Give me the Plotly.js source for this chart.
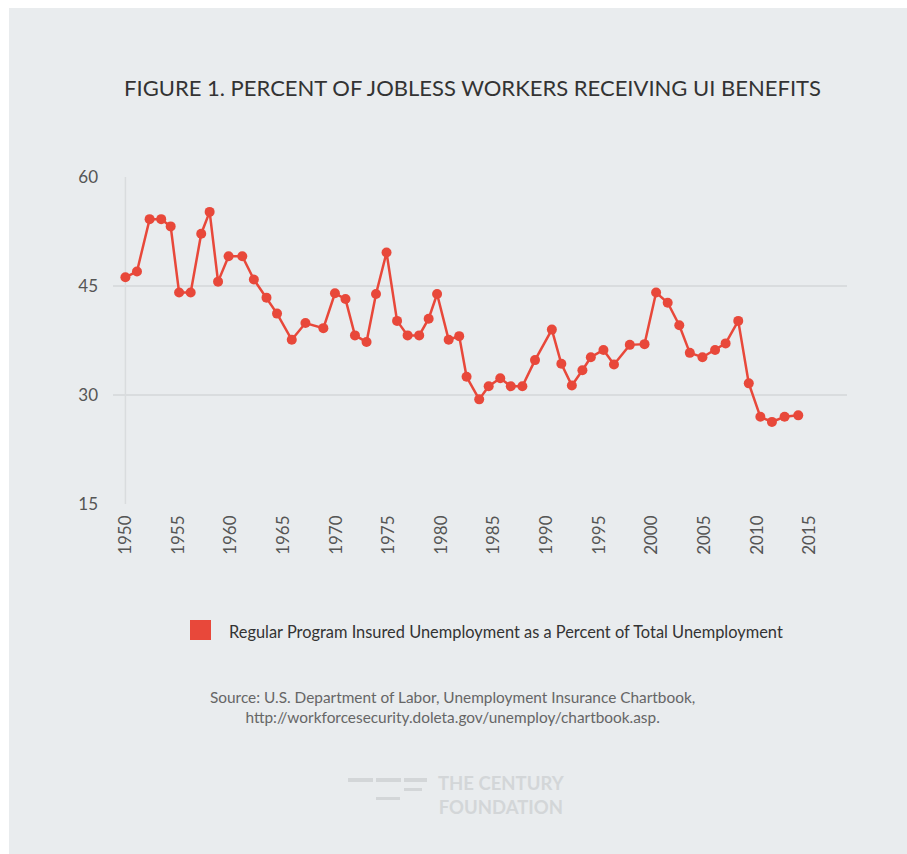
<!DOCTYPE html>
<html>
<head>
<meta charset="utf-8">
<script src="https://cdn.plot.ly/plotly-3.0.1.min.js"></script>
<style>
  html, body { margin: 0; padding: 0; background: #ffffff; }
  #card { position: absolute; left: 9px; top: 8px; width: 898px; height: 846px; background: #e9ecee; }
  #chart { position: absolute; left: 0; top: 0; width: 907px; height: 854px; }
</style>
</head>
<body>
<div id="card"></div>
<div id="chart"></div>
<script>
// Year positions of the plotted points
const years = [1950,1951.1,1952.3,1953.4,1954.3,1955.1,1956.2,1957.2,1958.0,1958.8,
  1959.8,1961.1,1962.2,1963.4,1964.4,1965.8,1967.1,1968.8,1969.9,1970.9,
  1971.8,1972.9,1973.8,1974.8,1975.8,1976.8,1977.9,1978.8,1979.6,1980.7,
  1981.7,1982.4,1983.6,1984.5,1985.6,1986.6,1987.7,1988.9,1990.5,1991.4,
  1992.4,1993.4,1994.2,1995.4,1996.4,1997.9,1999.3,2000.4,2001.5,2002.6,
  2003.6,2004.8,2006.0,2007.0,2008.2,2009.2,2010.3,2011.4,2012.6,2013.9];
// Regular program insured unemployment as % of total unemployment
const recipiency = [46.2,47.0,54.2,54.2,53.2,44.1,44.1,52.2,55.2,45.6,
  49.1,49.1,45.9,43.4,41.2,37.6,39.9,39.2,44.0,43.2,
  38.2,37.3,43.9,49.6,40.2,38.2,38.2,40.5,43.9,37.6,
  38.1,32.5,29.4,31.2,32.3,31.2,31.2,34.8,39.0,34.3,
  31.3,33.4,35.2,36.2,34.2,36.9,37.0,44.1,42.7,39.6,
  35.8,35.2,36.2,37.1,40.2,31.6,27.0,26.3,27.0,27.2];
const xTicks = [1950,1955,1960,1965,1970,1975,1980,1985,1990,1995,2000,2005,2010,2015];
const yTicks = [15,30,45,60];
const titleText = "FIGURE 1. PERCENT OF JOBLESS WORKERS RECEIVING UI BENEFITS";
const seriesName = "Regular Program Insured Unemployment as a Percent of Total Unemployment";
const sourceText = "Source: U.S. Department of Labor, Unemployment Insurance Chartbook,<br>http://workforcesecurity.doleta.gov/unemploy/chartbook.asp.";
const logoLines = ["THE CENTURY", "FOUNDATION"];

const RED = "#e8483a";
const GRID = "#d9dcde";
const FONT = "Lato, 'Open Sans', sans-serif";

// helpers to place decorations in paper coords from pixel positions
const L = 113, R = 60, T = 177, B = 350, W = 907, H = 854;
const pw = W - L - R, ph = H - T - B;
const px = x => (x - L) / pw;
const py = y => (H - B - y) / ph;

const trace = {
  type: "scatter",
  mode: "lines+markers",
  x: years,
  y: recipiency,
  name: seriesName,
  showlegend: false,
  line: { color: RED, width: 2.5 },
  marker: { color: RED, size: 10 },
  hoverinfo: "x+y"
};

const logoColor = "#d3d6d8";
const dash = (x0, x1, y0, y1) => ({
  type: "rect", xref: "paper", yref: "paper",
  x0: px(x0), x1: px(x1), y0: py(y1), y1: py(y0),
  line: { width: 0 }, fillcolor: logoColor
});

const layout = {
  width: W, height: H,
  margin: { l: L, r: R, t: T, b: B },
  paper_bgcolor: "rgba(0,0,0,0)",
  plot_bgcolor: "rgba(0,0,0,0)",
  font: { family: FONT, color: "#555" },
  title: {
    text: titleText,
    font: { family: FONT, size: 22, color: "#333" },
    xref: "container", yref: "container",
    x: 472.5 / W, y: 1 - 88 / H, xanchor: "center", yanchor: "middle"
  },
  xaxis: {
    range: [1950 - (125.4 - L) / 10.53, 1950 + (W - R - 125.4) / 10.53],
    tickvals: xTicks,
    ticktext: xTicks.map(String),
    tickangle: -90,
    ticks: "",
    showgrid: false,
    zeroline: false,
    showline: false,
    ticklabelstandoff: 7,
    tickfont: { family: FONT, size: 17, color: "#555" }
  },
  yaxis: {
    range: [15, 60],
    tickvals: yTicks,
    ticktext: yTicks.map(String),
    ticks: "",
    showgrid: true,
    gridcolor: GRID,
    gridwidth: 1.5,
    zeroline: false,
    showline: false,
    ticklabelstandoff: 14,
    tickfont: { family: FONT, size: 17, color: "#555" }
  },
  shapes: [
    { type: "line", xref: "x", yref: "paper", x0: 1950, x1: 1950, y0: 0, y1: 1,
      line: { color: GRID, width: 1.5 }, layer: "below" },
    // legend swatch
    { type: "rect", xref: "paper", yref: "paper",
      x0: px(190), x1: px(211), y0: py(640), y1: py(620),
      line: { width: 0 }, fillcolor: RED },
    // logo dashes
    dash(348, 373, 778, 782), dash(376, 401, 778, 782), dash(404, 427, 778, 782),
    dash(404, 422, 788, 791),
    dash(376, 400, 797, 800)
  ],
  annotations: [
    { xref: "paper", yref: "paper", x: px(227), y: py(631), xanchor: "left", yanchor: "middle",
      text: seriesName, showarrow: false, font: { family: FONT, size: 16.4, color: "#333" } },
    { xref: "paper", yref: "paper", x: px(452.5), y: py(707), xanchor: "center", yanchor: "middle",
      text: sourceText, showarrow: false, align: "center",
      font: { family: FONT, size: 15.4, color: "#666" } },
    { xref: "paper", yref: "paper", x: px(436), y: py(794.5), xanchor: "left", yanchor: "middle",
      align: "center",
      text: "<b>" + logoLines.join("<br>") + "</b>", showarrow: false,
      font: { family: FONT, size: 18.5, color: logoColor } }
  ]
};

Plotly.newPlot("chart", [trace], layout, { displayModeBar: false, staticPlot: true });
</script>
</body>
</html>
